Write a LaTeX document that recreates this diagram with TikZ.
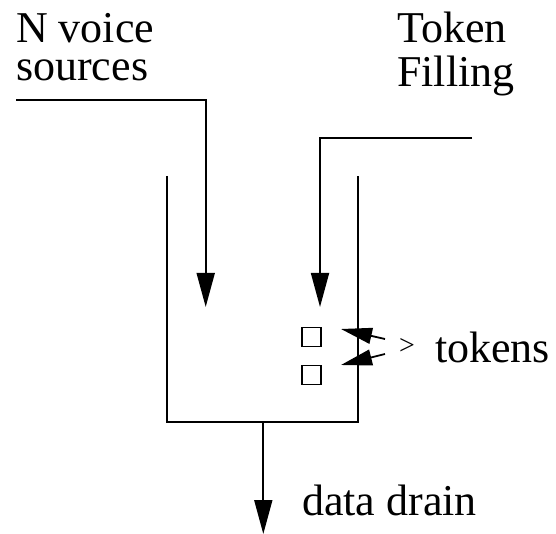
\documentclass[tikz,border=0pt]{standalone}
\usepackage{fontspec}
\setmainfont{Liberation Serif}
\usetikzlibrary{arrows.meta}
\tikzset{
  wire/.style={line width=1.8pt, line cap=butt},
  bigarrow/.style={wire, -{Triangle[length=34pt,width=18pt]}},
  tokarrow/.style={wire, -{Triangle[length=31pt,width=16pt]}},
  lbl/.style={anchor=base west, inner sep=0pt, font=\fontsize{44}{44}\selectfont},
  tokbox/.style={draw, line width=1.8pt, minimum width=19pt, minimum height=19pt, inner sep=0pt}
}
\begin{document}
\begin{tikzpicture}[x=1pt,y=-1pt]
\useasboundingbox (0,0) rectangle (556,534);
% labels
\node[lbl, text depth=0pt] (nv) at (16,43) {N voice};
\node[lbl, text height=20pt] (src) at (16,81) {sources};
\node[lbl] (tok) at (397,43) {Token};
\node[lbl] (fill) at (397,87) {Filling};
\node[lbl] (tokens) at (435,362) {tokens};
\node[lbl] (drain) at (302,515) {data drain};
\node[inner sep=0pt, font=\fontsize{28}{28}\selectfont] (gt) at (407,346) {>};
% container
\draw[wire] (167,176) -- (167,422.3) -- (358.3,422.3) -- (358.3,176);
\coordinate (cbot) at (263.3,422.3);
% token boxes
\node[tokbox] (b1) at (311.5,337) {};
\node[tokbox] (b2) at (311.5,375) {};
% inputs
\coordinate (ns) at (16,100);
\coordinate (nt) at (205.7,307);
\draw[bigarrow] (ns) -| (nt);
\coordinate (ts) at (472,138.3);
\coordinate (tt) at (320,307);
\draw[bigarrow] (ts) -| (tt);
% drain
\coordinate (dt) at (263.3,534);
\draw[bigarrow] (cbot) -- (dt);
% token arrows
\coordinate (a1s) at (385,339);
\coordinate (a1t) at (341,329);
\coordinate (a2s) at (385,354);
\coordinate (a2t) at (341,365);
\draw[tokarrow] (a1s) -- (a1t);
\draw[tokarrow] (a2s) -- (a2t);
\end{tikzpicture}
\end{document}
